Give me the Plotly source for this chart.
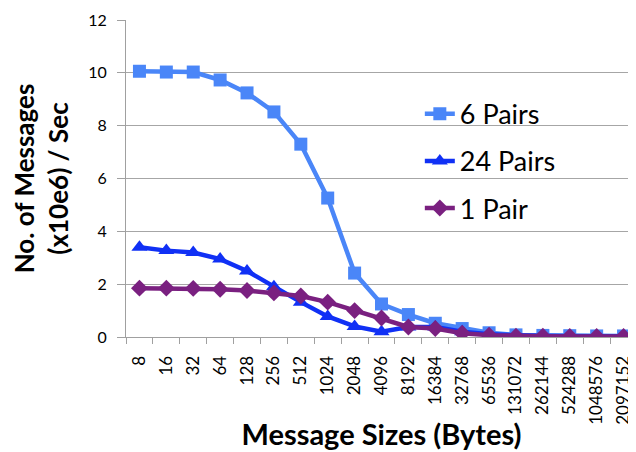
import plotly.graph_objects as go

categories = ["8", "16", "32", "64", "128", "256", "512", "1024", "2048", "4096",
              "8192", "16384", "32768", "65536", "131072", "262144", "524288",
              "1048576", "2097152"]
six_pairs = [10.06, 10.03, 10.03, 9.73, 9.24, 8.52, 7.30, 5.26, 2.42, 1.25,
             0.85, 0.52, 0.32, 0.16, 0.08, 0.06, 0.05, 0.04, 0.04]
twentyfour_pairs = [3.40, 3.27, 3.20, 2.95, 2.50, 1.90, 1.32, 0.78, 0.40, 0.20,
                    0.38, 0.38, 0.20, 0.10, 0.05, 0.04, 0.03, 0.03, 0.03]
one_pair = [1.85, 1.85, 1.84, 1.81, 1.76, 1.67, 1.55, 1.32, 1.00, 0.72,
            0.38, 0.32, 0.14, 0.07, 0.03, 0.03, 0.02, 0.02, 0.02]
y_ticks = [0, 2, 4, 6, 8, 10, 12]

FONT = "Lato, 'Open Sans', sans-serif"

fig = go.Figure()
fig.add_trace(go.Scatter(x=categories, y=six_pairs, name="6 Pairs", mode="lines+markers",
                         legendgroup="a",
                         line=dict(color="#4A86F8", width=4.5),
                         marker=dict(symbol="square", size=13, color="#4A86F8")))
fig.add_trace(go.Scatter(x=categories, y=twentyfour_pairs, name="24 Pairs", mode="lines+markers",
                         legendgroup="b",
                         line=dict(color="#1030F5", width=4.5),
                         marker=dict(symbol="triangle-up", size=14, color="#1030F5")))
fig.add_trace(go.Scatter(x=categories, y=one_pair, name="1 Pair", mode="lines+markers",
                         legendgroup="c",
                         line=dict(color="#7A2080", width=4.5),
                         marker=dict(symbol="diamond", size=13, color="#7A2080")))

fig.update_layout(
    width=636, height=452,
    margin=dict(l=118, r=7, t=12, b=123, autoexpand=False),
    paper_bgcolor="white", plot_bgcolor="white",
    font=dict(family=FONT, color="black"),
    legend=dict(x=0.575, y=0.78, xanchor="left", yanchor="top",
                font=dict(size=27, family=FONT), itemwidth=30,
                bgcolor="rgba(0,0,0,0)", tracegroupgap=9),
    xaxis=dict(type="category", range=[-0.5, 18.5], tickangle=-90,
               tickfont=dict(size=17), showgrid=False,
               showline=True, linecolor="#A0A0A0", linewidth=1,
               ticks="outside", tickson="boundaries", ticklen=6, tickcolor="#A0A0A0",
               ticklabelstandoff=11, ticklabeloverflow="allow",
               title=dict(text="<b>Message Sizes (Bytes)</b>", font=dict(size=29), standoff=0)),
    yaxis=dict(range=[0, 12], tickvals=y_ticks, tickfont=dict(size=16),
               showgrid=True, gridcolor="#A6A6A6", gridwidth=1,
               showline=True, linecolor="#A0A0A0", linewidth=1,
               ticks="outside", ticklen=8, tickcolor="#A0A0A0",
               ticklabelstandoff=7, ticklabeloverflow="allow",
               zeroline=False,
               title=dict(text="<b>No. of Messages<br>(x10e6) / Sec</b>", font=dict(size=26), standoff=20)),
)

fig.write_html("out.html")
